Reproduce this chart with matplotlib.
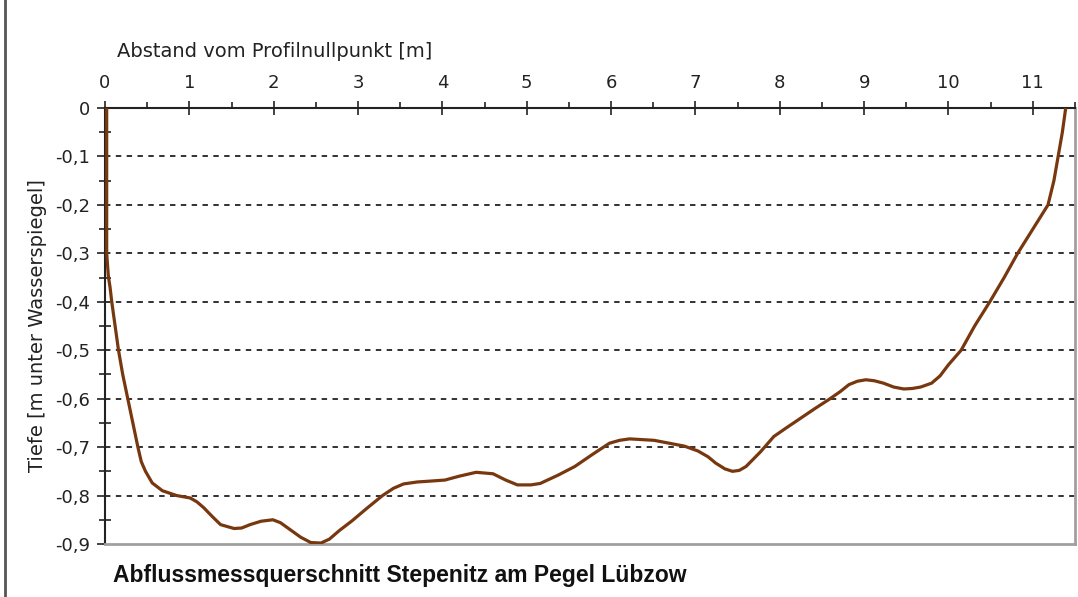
import matplotlib
matplotlib.use('Agg')
import matplotlib.pyplot as plt
from matplotlib.lines import Line2D
from matplotlib.ticker import MultipleLocator, FuncFormatter

plt.rcParams['font.family'] = ['DejaVu Sans']

# Profile of the cross section (distance [m], depth [m])
abstand = [0.02, 0.02, 0.04, 0.06, 0.08, 0.12, 0.16, 0.21, 0.27, 0.33, 0.39,
           0.43, 0.48, 0.56, 0.68, 0.85, 1.01, 1.09, 1.17, 1.27, 1.37, 1.53,
           1.62, 1.72, 1.85, 1.99, 2.08, 2.20, 2.32, 2.44, 2.56, 2.66, 2.78,
           2.93, 3.10, 3.29, 3.42, 3.54, 3.70, 3.87, 4.03, 4.20, 4.40, 4.60,
           4.75, 4.89, 5.05, 5.16, 5.37, 5.57, 5.78, 5.98, 6.10, 6.22, 6.51,
           6.87, 7.03, 7.15, 7.24, 7.35, 7.44, 7.52, 7.60, 7.77, 7.93, 8.08,
           8.25, 8.42, 8.58, 8.72, 8.82, 8.92, 9.02, 9.12, 9.23, 9.35, 9.47,
           9.57, 9.67, 9.80, 9.90, 10.00, 10.15, 10.31, 10.49, 10.66, 10.82,
           11.00, 11.18, 11.25, 11.30, 11.35, 11.39]
tiefe = [0.0, -0.30, -0.348, -0.37, -0.40, -0.45, -0.50, -0.55, -0.60, -0.65,
         -0.70, -0.73, -0.75, -0.774, -0.79, -0.80, -0.805, -0.813, -0.825,
         -0.843, -0.86, -0.868, -0.867, -0.86, -0.853, -0.85, -0.856, -0.871,
         -0.886, -0.897, -0.898, -0.89, -0.872, -0.852, -0.827, -0.80, -0.785,
         -0.776, -0.772, -0.77, -0.768, -0.76, -0.752, -0.755, -0.768, -0.778,
         -0.778, -0.775, -0.758, -0.74, -0.715, -0.692, -0.686, -0.683, -0.686,
         -0.698, -0.708, -0.72, -0.733, -0.745, -0.75, -0.748, -0.74, -0.71,
         -0.678, -0.66, -0.64, -0.62, -0.602, -0.585, -0.571, -0.564, -0.561,
         -0.563, -0.568, -0.576, -0.58, -0.579, -0.576, -0.568, -0.553, -0.53,
         -0.50, -0.45, -0.40, -0.35, -0.30, -0.25, -0.20, -0.15, -0.10, -0.05,
         0.0]

x_ticks = list(range(0, 12))
y_gridlines = [-0.1, -0.2, -0.3, -0.4, -0.5, -0.6, -0.7, -0.8]

fig = plt.figure(figsize=(10.78, 5.97), dpi=100)
ax = fig.add_axes([105 / 1078, 1 - 544 / 597, (1075 - 105) / 1078, (544 - 108) / 597])

for g in y_gridlines:
    ax.axhline(g, color='#222222', linestyle=(0, (3, 3)), linewidth=1.3, zorder=1)

ax.plot(abstand, tiefe, color='#78380f', linewidth=2.3, zorder=3,
        solid_joinstyle='round')

ax.set_xlim(0, 11.5)
ax.set_ylim(-0.9, 0)

# x axis on top
ax.xaxis.tick_top()
ax.set_xticks(x_ticks)
ax.xaxis.set_minor_locator(MultipleLocator(0.5))
ax.yaxis.set_major_locator(MultipleLocator(0.1))
ax.yaxis.set_minor_locator(MultipleLocator(0.05))
ax.yaxis.set_major_formatter(FuncFormatter(lambda v, p: ('%.1f' % v).replace('.', ',') if abs(v) > 1e-9 else '0'))

ax.tick_params(axis='x', which='major', direction='inout', length=9.5, width=1.2,
               labelsize=13, pad=7, colors='#222222')
ax.tick_params(axis='x', which='minor', direction='out', length=4, width=1.2, colors='#222222')
ax.tick_params(axis='y', which='major', direction='out', length=6, width=1.2,
               labelsize=13, pad=5, colors='#222222')
ax.tick_params(axis='y', which='minor', direction='inout', length=8, width=1.2, colors='#222222')

for side in ['top', 'left']:
    ax.spines[side].set_color('#222222')
    ax.spines[side].set_linewidth(1.5)
for side in ['right', 'bottom']:
    ax.spines[side].set_color('#a0a0a0')
    ax.spines[side].set_linewidth(2)

ax.set_ylabel('Tiefe [m unter Wasserspiegel]', fontsize=14, color='#222222')
ax.yaxis.set_label_coords(-0.060, 0.5)

fig.text(275 / 1078, 1 - 57 / 597, 'Abstand vom Profilnullpunkt [m]', fontsize=14,
         ha='center', va='baseline', color='#222222')
fig.text(113 / 1078, 1 - 582 / 597, 'Abflussmessquerschnitt Stepenitz am Pegel Lübzow',
         fontsize=16.5, fontweight='bold', ha='left', va='baseline', color='#111111',
         family=['Liberation Sans', 'DejaVu Sans'])

# left border of the panel
fig.add_artist(Line2D([5 / 1078, 5 / 1078], [0, 1], color='#555555', linewidth=2))

fig.savefig('out.png', dpi=100)
